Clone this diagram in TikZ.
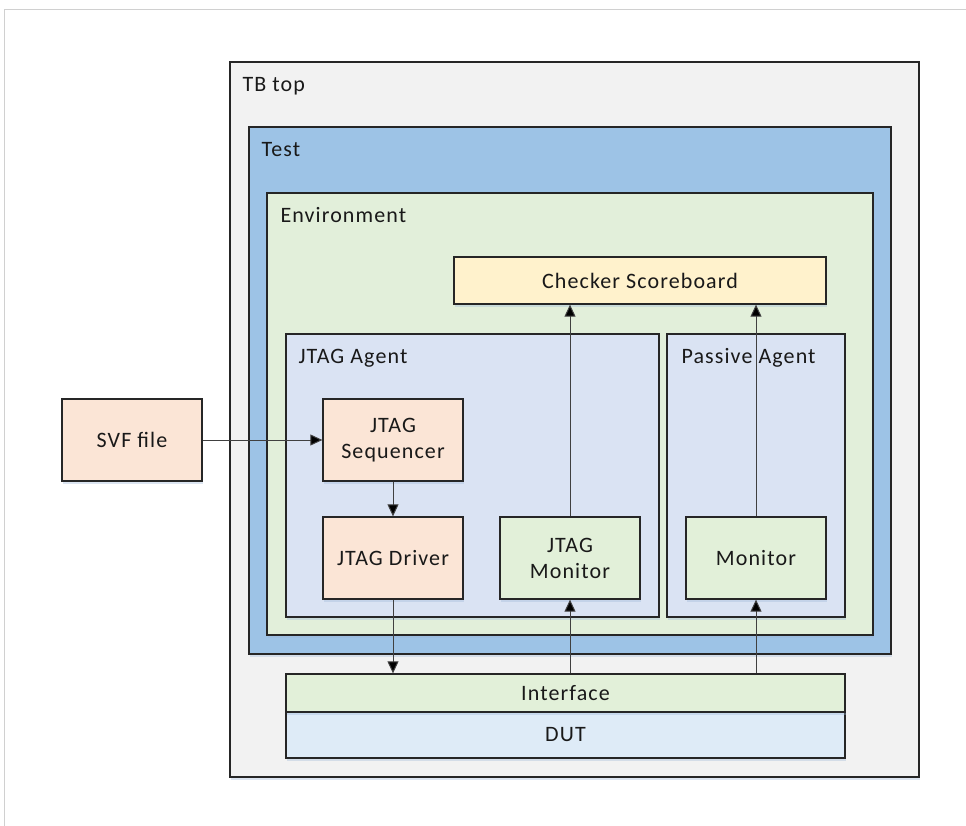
\documentclass[tikz,border=0pt]{standalone}
\usepackage{fontspec}
\setmainfont{Carlito}[LetterSpace=5]
\usetikzlibrary{arrows.meta,shadows}

\definecolor{tbfill}{HTML}{F2F2F2}
\definecolor{testfill}{HTML}{9DC3E6}
\definecolor{envfill}{HTML}{E2EFDA}
\definecolor{agentfill}{HTML}{DAE3F3}
\definecolor{chkfill}{HTML}{FFF2CC}
\definecolor{orangefill}{HTML}{FBE5D6}
\definecolor{greenfill}{HTML}{E2F0D9}
\definecolor{dutfill}{HTML}{DEEBF7}
\definecolor{edgegray}{HTML}{262626}
\definecolor{wiregray}{HTML}{404040}
\definecolor{pageline}{HTML}{D0D0D0}
\definecolor{shadowblue}{HTML}{9DB7D8}

\tikzset{
  box/.style={draw=edgegray, line width=1.3pt, rectangle, inner sep=0pt,
    font=\fontsize{22}{26}\selectfont, align=center, text=black!90,
    drop shadow={shadow xshift=1pt, shadow yshift=-3pt, opacity=0.35, fill=shadowblue}},
  lbl/.style={anchor=base west, inner sep=0pt, font=\fontsize{22}{26}\selectfont, text=black!90},
  arr/.style={draw=wiregray, line width=1pt, -{Triangle[length=12pt,width=11pt,fill=black]}},
}

\begin{document}
\begin{tikzpicture}[x=1pt,y=-1pt]
\useasboundingbox (0,0) rectangle (966,826);
\fill[white] (0,0) rectangle (966,826);
% page edge
\draw[pageline, line width=1pt] (4,826) -- (4,10) -- (966,10);

% nested containers
\node[box, fill=tbfill, minimum width=689, minimum height=715] (tbtop) at (574.5,419.5) {};
\node[lbl] at ([shift={(13,30)}]tbtop.north west) {TB top};
\node[box, fill=testfill, minimum width=642, minimum height=527] (test) at (570,390.5) {};
\node[lbl] at ([shift={(13,30)}]test.north west) {Test};
\node[box, fill=envfill, minimum width=606, minimum height=442] (env) at (570,414) {};
\node[lbl] at ([shift={(14,30)}]env.north west) {Environment};

\node[box, fill=chkfill, minimum width=372, minimum height=47] (chk) at (640,280.5) {Checker Scoreboard};

\node[box, fill=agentfill, minimum width=373, minimum height=283] (jagent) at (472.5,475.5) {};
\node[lbl] at ([shift={(13,30)}]jagent.north west) {JTAG Agent};
\node[box, fill=agentfill, minimum width=178, minimum height=283] (pagent) at (756,475.5) {};
\node[lbl] at ([shift={(15,30)}]pagent.north west) {Passive Agent};

% leaf blocks
\node[box, fill=orangefill, minimum width=140, minimum height=82] (svf) at (132,440) {SVF file};
\node[box, fill=orangefill, minimum width=140, minimum height=82] (seq) at (393,440) {JTAG\\Sequencer};
\node[box, fill=orangefill, minimum width=140, minimum height=82] (drv) at (393,558) {JTAG Driver};
\node[box, fill=greenfill, minimum width=140, minimum height=82] (jmon) at (570,558) {JTAG\\Monitor};
\node[box, fill=greenfill, minimum width=140, minimum height=82] (mon) at (756,558) {Monitor};

\node[box, fill=dutfill, minimum width=559, minimum height=46] (dut) at (565.5,735) {DUT};
\node[box, fill=greenfill, minimum width=559, minimum height=38] (iface) at (565.5,693) {Interface};

% connectors
\draw[arr] (svf) -- (seq);
\draw[arr] (seq) -- (drv);
\draw[arr] (drv.south) -- (drv.south |- iface.north);
\draw[arr] (iface.north -| jmon.south) -- (jmon.south);
\draw[arr] (jmon.north) -- (jmon.north |- chk.south);
\draw[arr] (iface.north -| mon.south) -- (mon.south);
\draw[arr] (mon.north) -- (mon.north |- chk.south);
\end{tikzpicture}
\end{document}
